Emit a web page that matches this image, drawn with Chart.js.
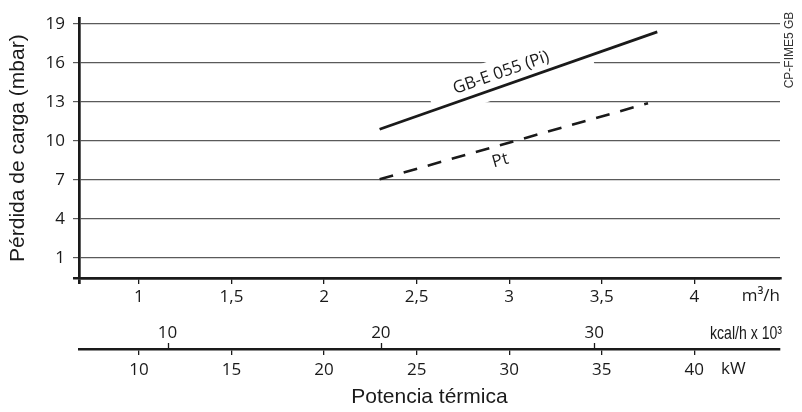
<!DOCTYPE html>
<html>
<head>
<meta charset="utf-8">
<script src="https://cdn.jsdelivr.net/npm/chart.js@4.4.1/dist/chart.umd.min.js"></script>
<style>
  html, body { margin: 0; padding: 0; background: #fff; }
</style>
</head>
<body>
<canvas id="lossChart" width="802" height="412"></canvas>
<script>
// curve end points (m3/h -> mbar)
const piFlow = [2.3, 3.8];
const piLoss = [10.9, 18.4];
const ptFlow = [2.3, 3.75];
const ptLoss = [7.05, 12.9];

// tick values of each axis
const lossTicks = [1, 4, 7, 10, 13, 16, 19];
const flowTicks = [1, 1.5, 2, 2.5, 3, 3.5, 4];
const kcalTicks = [10, 20, 30];
const kwTicks = [10, 15, 20, 25, 30, 35, 40];

// axis ranges
const lossMin = -0.55, lossMax = 19.45;
const flowMin = 0.676, flowMax = 4.463;
const kcalMin = 5.85, kcalMax = 38.71;
const kwMin = 6.76, kwMax = 44.63;

const ink = '#1a1a1a';
const gridGrey = '#5a5a5a';
const tickFont = { family: '"Open Sans", "DejaVu Sans", sans-serif', size: 17 };
const titleFont = { family: '"Liberation Sans", Arial, sans-serif', size: 21 };

const comma = v => String(v).replace('.', ',');

// fixed tick lists, optionally with an unlabeled tick at the axis start
function useTicks(list, withMin) {
    return scale => {
        const t = list.map(v => ({ value: v }));
        if (withMin) t.unshift({ value: scale.min });
        scale.ticks = t;
    };
}

// point on a curve at a given flow, and the curve angle in pixels
function curvePoint(chart, flows, losses, f) {
    const xs = chart.scales.x, ys = chart.scales.y;
    const t = (f - flows[0]) / (flows[1] - flows[0]);
    const loss = losses[0] + t * (losses[1] - losses[0]);
    const x1 = xs.getPixelForValue(flows[0]), y1 = ys.getPixelForValue(losses[0]);
    const x2 = xs.getPixelForValue(flows[1]), y2 = ys.getPixelForValue(losses[1]);
    return { x: xs.getPixelForValue(f), y: ys.getPixelForValue(loss), a: Math.atan2(y2 - y1, x2 - x1) };
}

const curveLabels = {
    id: 'curveLabels',
    beforeDatasetsDraw(chart) {
        // white band behind the upper curve label, it breaks the grid lines
        const ctx = chart.ctx;
        const p = curvePoint(chart, piFlow, piLoss, 2.98);
        ctx.save();
        ctx.translate(p.x, p.y);
        ctx.rotate(p.a);
        ctx.fillStyle = '#fff';
        ctx.fillRect(-76, -28, 167, 38);
        ctx.restore();
    },
    afterDatasetsDraw(chart) {
        const ctx = chart.ctx;
        ctx.save();
        ctx.fillStyle = ink;
        ctx.font = '17px "Open Sans", "DejaVu Sans", sans-serif';
        ctx.textAlign = 'center';
        ctx.textBaseline = 'middle';

        let p = curvePoint(chart, piFlow, piLoss, 2.98);
        ctx.save();
        ctx.translate(p.x, p.y);
        ctx.rotate(p.a);
        ctx.fillText('GB-E 055 (Pi)', 0, -13);
        ctx.restore();

        p = curvePoint(chart, ptFlow, ptLoss, 2.93);
        ctx.save();
        ctx.translate(p.x, p.y);
        ctx.rotate(p.a);
        ctx.fillText('Pt', 0, 15);
        ctx.restore();
        ctx.restore();
    },
    afterDraw(chart) {
        const ctx = chart.ctx;
        const right = chart.chartArea.right;
        ctx.save();

        // kcal ticks stand up from the kW line
        const kc = chart.scales.kcal;
        ctx.strokeStyle = ink;
        ctx.lineWidth = 1.3;
        ctx.beginPath();
        kc.ticks.forEach(t => {
            const x = Math.round(kc.getPixelForValue(t.value)) + 0.5;
            ctx.moveTo(x, kc.bottom - 6);
            ctx.lineTo(x, kc.bottom);
        });
        ctx.stroke();

        ctx.fillStyle = ink;
        ctx.textBaseline = 'middle';

        // unit names at the right end of the scales
        ctx.font = '17px "Open Sans", "DejaVu Sans", sans-serif';
        ctx.textAlign = 'right';
        ctx.fillText('m³/h', right, 296.5);
        ctx.textAlign = 'left';
        ctx.fillText('kW', 721, 369.5);

        // condensed unit label
        ctx.font = '19px "Liberation Sans Narrow", "Liberation Sans", sans-serif';
        const unit = 'kcal/h x 10³';
        const w = ctx.measureText(unit).width;
        ctx.save();
        ctx.translate(782, 334);
        ctx.scale(72 / w, 1);
        ctx.textAlign = 'right';
        ctx.fillText(unit, 0, 0);
        ctx.restore();

        // drawing code on the right edge
        ctx.font = '12px "Liberation Sans", Arial, sans-serif';
        ctx.fillStyle = '#333';
        ctx.textAlign = 'center';
        ctx.translate(790, 50);
        ctx.rotate(-Math.PI / 2);
        ctx.fillText('CP-FIME5 GB', 0, 0);
        ctx.restore();
    }
};

const isStart = (ctx, min) => ctx.tick && Math.abs(ctx.tick.value - min) < 1e-9;

new Chart(document.getElementById('lossChart'), {
    type: 'line',
    data: {
        datasets: [
            {
                label: 'GB-E 055 (Pi)',
                data: piFlow.map((x, i) => ({ x: x, y: piLoss[i] })),
                borderColor: ink,
                borderWidth: 2.8,
                pointRadius: 0
            },
            {
                label: 'Pt',
                data: ptFlow.map((x, i) => ({ x: x, y: ptLoss[i] })),
                borderColor: ink,
                borderWidth: 2.6,
                borderDash: [14, 11],
                pointRadius: 0
            }
        ]
    },
    options: {
        responsive: false,
        devicePixelRatio: 1,
        animation: false,
        layout: { padding: { left: 0, right: 22, top: 10, bottom: 0 } },
        plugins: {
            legend: { display: false },
            tooltip: { enabled: false }
        },
        scales: {
            y: {
                type: 'linear',
                position: 'left',
                min: lossMin,
                max: lossMax,
                afterBuildTicks: useTicks(lossTicks, true),
                afterFit: s => { s.width = 79; },
                grid: {
                    color: ctx => isStart(ctx, lossMin) ? ink : gridGrey,
                    lineWidth: ctx => isStart(ctx, lossMin) ? 2.5 : 1.2,
                    tickLength: 6
                },
                border: { display: true, color: ink, width: 2.7 },
                ticks: {
                    font: tickFont,
                    color: ink,
                    padding: 8,
                    callback: v => Math.abs(v - lossMin) < 1e-9 ? '' : comma(v)
                },
                title: {
                    display: true,
                    text: 'Pérdida de carga (mbar)',
                    font: titleFont,
                    color: ink,
                    padding: { top: 6, bottom: 0 }
                }
            },
            x: {
                type: 'linear',
                position: 'bottom',
                min: flowMin,
                max: flowMax,
                afterBuildTicks: useTicks(flowTicks, true),
                afterFit: s => { s.height = 32; },
                grid: {
                    drawOnChartArea: false,
                    color: ink,
                    lineWidth: ctx => isStart(ctx, flowMin) ? 2.7 : 1.3,
                    tickLength: 6
                },
                border: { display: true, color: ink, width: 2.5 },
                ticks: {
                    font: tickFont,
                    color: ink,
                    padding: 3,
                    maxRotation: 0,
                    autoSkip: false,
                    callback: v => Math.abs(v - flowMin) < 1e-9 ? '' : comma(v)
                }
            },
            kcal: {
                type: 'linear',
                position: 'bottom',
                min: kcalMin,
                max: kcalMax,
                afterBuildTicks: useTicks(kcalTicks, false),
                afterFit: s => { s.height = 39; },
                grid: {
                    display: false,
                    drawOnChartArea: false,
                    drawTicks: false
                },
                border: { display: false },
                ticks: {
                    font: tickFont,
                    color: ink,
                    padding: 13,
                    maxRotation: 0,
                    autoSkip: false
                }
            },
            kw: {
                type: 'linear',
                position: 'bottom',
                min: kwMin,
                max: kwMax,
                afterBuildTicks: useTicks(kwTicks, false),
                afterFit: s => { s.height = 63; },
                grid: {
                    drawOnChartArea: false,
                    color: ink,
                    lineWidth: 1.3,
                    tickLength: 6
                },
                border: { display: true, color: ink, width: 2.5 },
                ticks: {
                    font: tickFont,
                    color: ink,
                    padding: 5,
                    maxRotation: 0,
                    autoSkip: false
                },
                title: {
                    display: true,
                    text: 'Potencia térmica',
                    font: titleFont,
                    color: ink,
                    padding: { top: 0, bottom: 2 }
                }
            }
        }
    },
    plugins: [curveLabels]
});
</script>
</body>
</html>
